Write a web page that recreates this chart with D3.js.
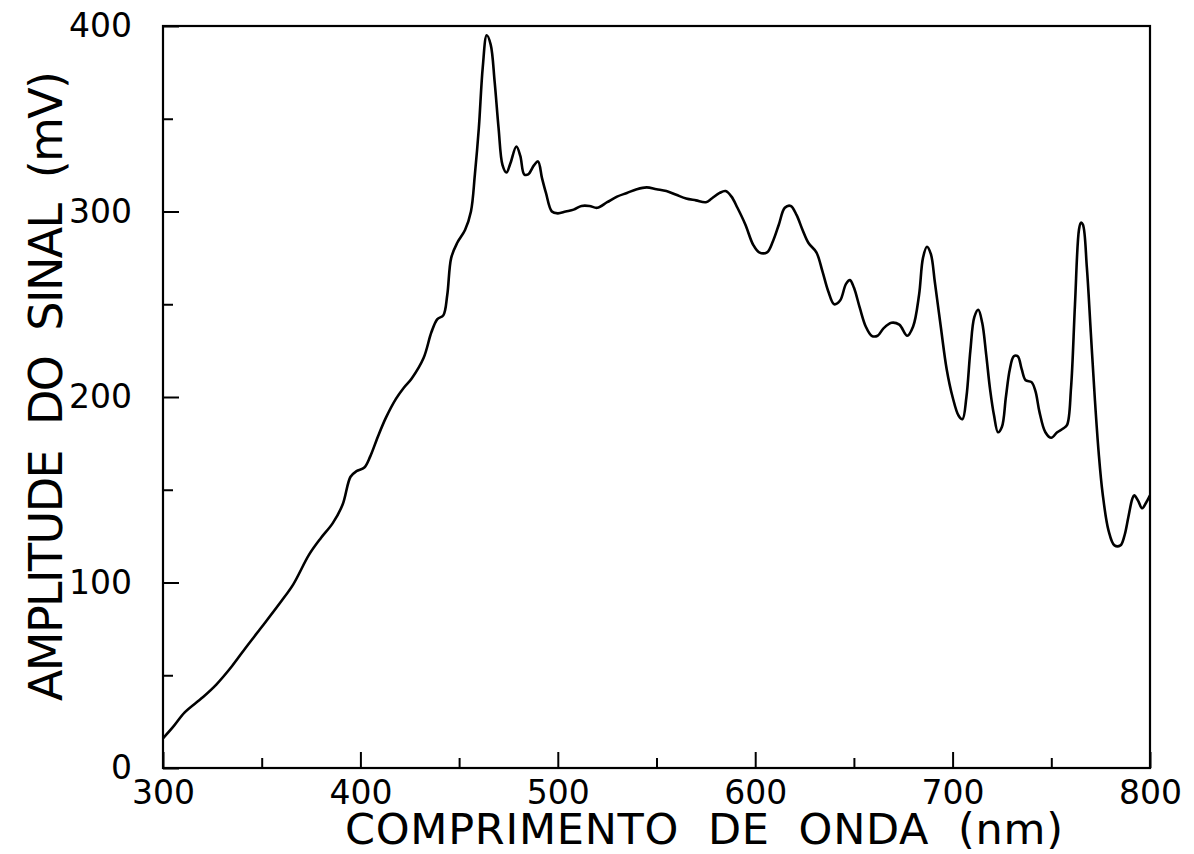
<!DOCTYPE html>
<html>
<head>
<meta charset="utf-8">
<script src="https://cdn.jsdelivr.net/npm/d3@7"></script>
<style>
  html, body { margin: 0; padding: 0; background: #fff; }
  svg { display: block; }
  text { font-family: "DejaVu Sans", sans-serif; fill: #000; }
</style>
</head>
<body>
<svg id="chart" width="1194" height="854"></svg>
<script>
// ---- data ----
const wavelength = [300,305,311,320,327,335,342,350,360,366,374,380,386,391,395,398,402,405,409,413,418,422,426,432,436,439,442,444,446,449,453,456,458,460,462,464,466,468,470,472,474,476,479,481,483,485,488,490,492,494,497,500,504,508,512,516,520,525,530,535,540,545,550,555,560,565,570,575,578,582,585,588,591,595,599,602,606,609,612,615,618,621,624,627,631,634,637,640,643,646,648,650,653,656,659,662,665,669,673,677,680,683,685,687,689,691,694,697,700,703,705,707,709,711,713,715,717,719,721,723,725,727,729,731,733,735,737,740,742,744,747,750,753,756,758,760,762,764,765,766,768,770,772,774,776,779,782,785,787,789,791,792,794,796,798,800];
const amplitude  = [16,22,30,38,45,55,65,76,90,99,115,124,132,142,157,160,162,168,179,189,199,205,210,221,235,242,244,255,275,283,290,300,320,345,378,395,390,370,345,325,321,326,335,330,320,320,325,327,318,310,300,299,300,301,303,303,302,305,308,310,312,313,312,311,309,307,306,305,307,310,311,308,302,293,282,278,278,284,293,302,303,298,290,283,278,268,257,250,252,261,263,259,248,238,233,233,237,240,239,233,238,255,275,281,277,262,238,215,200,190,188,200,225,243,247,240,223,204,190,181,184,200,215,222,222,215,209,208,203,192,181,178,181,183,185,205,250,290,294,293,270,235,200,170,148,128,120,120,125,135,145,147,144,140,143,147];
const xMajorTicks = [300,400,500,600,700,800];
const xMinorTicks = [350,450,550,650,750];
const yMajorTicks = [0,100,200,300,400];
const yMinorTicks = [50,150,250,350];
const xTitle = "COMPRIMENTO  DE  ONDA  (nm)";
const yTitle = "AMPLITUDE  DO  SINAL  (mV)";

// ---- layout ----
const mLeft = 163, mRight = 1150, mTop = 26, mBottom = 768;
const svg = d3.select("#chart");

const x = d3.scaleLinear().domain([300, 800]).range([mLeft, mRight]);
const y = d3.scaleLinear().domain([0, 400]).range([mBottom, mTop]);

// frame
svg.append("rect")
  .attr("x", mLeft).attr("y", mTop)
  .attr("width", mRight - mLeft).attr("height", mBottom - mTop)
  .attr("fill", "none").attr("stroke", "#000").attr("stroke-width", 2.2);

function styleAxis(g) {
  g.select(".domain").remove();
  g.selectAll(".tick line").attr("stroke", "#000").attr("stroke-width", 2);
  g.selectAll(".tick text")
    .attr("font-size", 33)
    .attr("font-family", "DejaVu Sans, sans-serif")
    .attr("fill", "#000");
}

// x axis (ticks inward)
svg.append("g")
  .attr("transform", `translate(0,${mBottom})`)
  .call(d3.axisBottom(x).tickValues(xMajorTicks).tickSize(-16).tickPadding(13).tickFormat(d3.format("d")))
  .call(styleAxis);
svg.append("g")
  .attr("transform", `translate(0,${mBottom})`)
  .call(d3.axisBottom(x).tickValues(xMinorTicks).tickSize(-10).tickFormat(""))
  .call(styleAxis);

// y axis (ticks inward)
svg.append("g")
  .attr("transform", `translate(${mLeft},0)`)
  .call(d3.axisLeft(y).tickValues(yMajorTicks).tickSize(-16).tickPadding(31).tickFormat(d3.format("d")))
  .call(styleAxis);
svg.append("g")
  .attr("transform", `translate(${mLeft},0)`)
  .call(d3.axisLeft(y).tickValues(yMinorTicks).tickSize(-10).tickFormat(""))
  .call(styleAxis);

// curve
const pts = wavelength.map((w, i) => [w, amplitude[i]]);
const line = d3.line()
  .x(d => x(d[0])).y(d => y(d[1]))
  .curve(d3.curveCatmullRom.alpha(0.5));
svg.append("path")
  .datum(pts)
  .attr("d", line)
  .attr("fill", "none")
  .attr("stroke", "#000")
  .attr("stroke-width", 2.6)
  .attr("stroke-linejoin", "round");

// axis titles
svg.append("text")
  .attr("x", 704).attr("y", 844)
  .attr("text-anchor", "middle")
  .attr("font-size", 43)
  .attr("textLength", 718).attr("lengthAdjust", "spacing")
  .style("white-space", "pre")
  .text(xTitle);

svg.append("text")
  .attr("transform", "translate(62,386) rotate(-90)")
  .attr("text-anchor", "middle")
  .attr("font-size", 46)
  .attr("textLength", 630).attr("lengthAdjust", "spacing")
  .style("white-space", "pre")
  .text(yTitle);
</script>
</body>
</html>
